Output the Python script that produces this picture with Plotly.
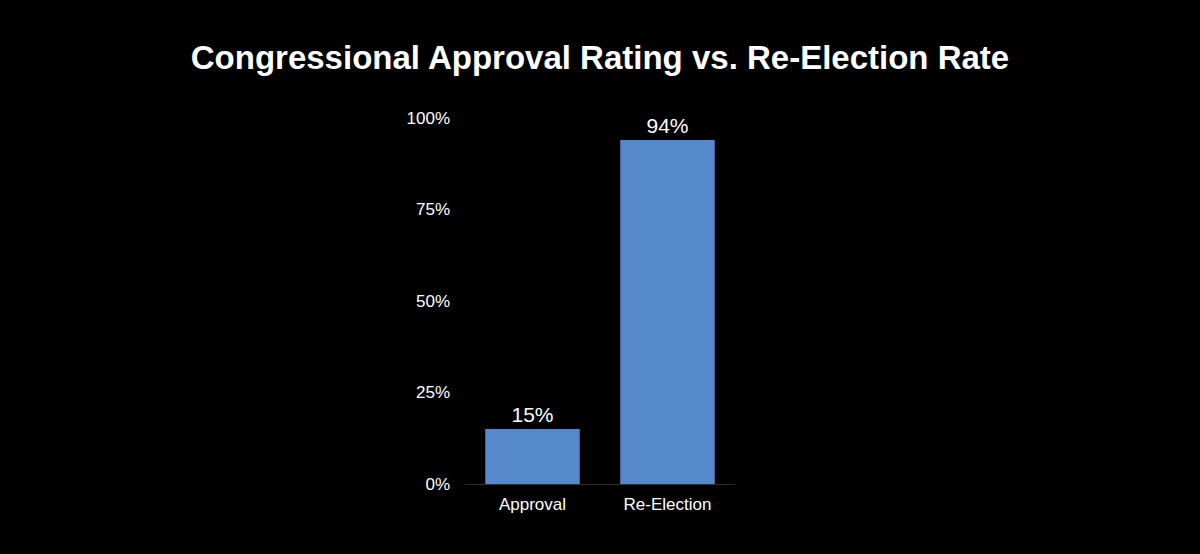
import plotly.graph_objects as go

# data
categories = ['Approval', 'Re-Election']
rates = [15, 94]
y_ticks = [0, 25, 50, 75, 100]
y_tick_labels = ['0%', '25%', '50%', '75%', '100%']

bar_color = '#5589CC'
font_family = 'Liberation Sans, Arial, Helvetica, sans-serif'


def main():
    fig = go.Figure()

    fig.add_trace(go.Bar(
        x=categories,
        y=rates,
        marker=dict(color=bar_color, line=dict(width=0)),
        text=[f'{v}%' for v in rates],
        textposition='outside',
        textfont=dict(color='white', size=21, family=font_family),
        cliponaxis=False,
        hoverinfo='skip',
    ))

    fig.update_layout(
        width=1200,
        height=554,
        paper_bgcolor='black',
        plot_bgcolor='black',
        showlegend=False,
        bargap=0.3,
        margin=dict(l=0, r=0, t=0, b=0),
        font=dict(family=font_family, color='white'),
        title=dict(
            text='<b>Congressional Approval Rating vs. Re-Election Rate</b>',
            x=0.5,
            xanchor='center',
            y=1 - 57 / 554,
            yanchor='middle',
            font=dict(size=33, color='white', family=font_family),
        ),
    )

    fig.update_xaxes(
        domain=[465 / 1200, 735 / 1200],
        automargin=False,
        showline=True,
        linecolor='#2e2e2e',
        linewidth=1,
        showgrid=False,
        ticks='',
        tickfont=dict(size=17, color='white'),
        ticklabelstandoff=5,
    )

    fig.update_yaxes(
        domain=[1 - 484 / 554, 1 - 118 / 554],
        automargin=False,
        range=[0, 100],
        tickvals=y_ticks,
        ticktext=y_tick_labels,
        showgrid=False,
        zeroline=False,
        showline=False,
        ticks='',
        tickfont=dict(size=17, color='white'),
        ticklabelstandoff=14,
    )

    # drop the page margin so the figure fills the window
    fig.write_html(
        'out.html',
        config={'displayModeBar': False},
        post_script="document.body.style.margin='0';document.body.style.background='black';",
    )


if __name__ == '__main__':
    main()
